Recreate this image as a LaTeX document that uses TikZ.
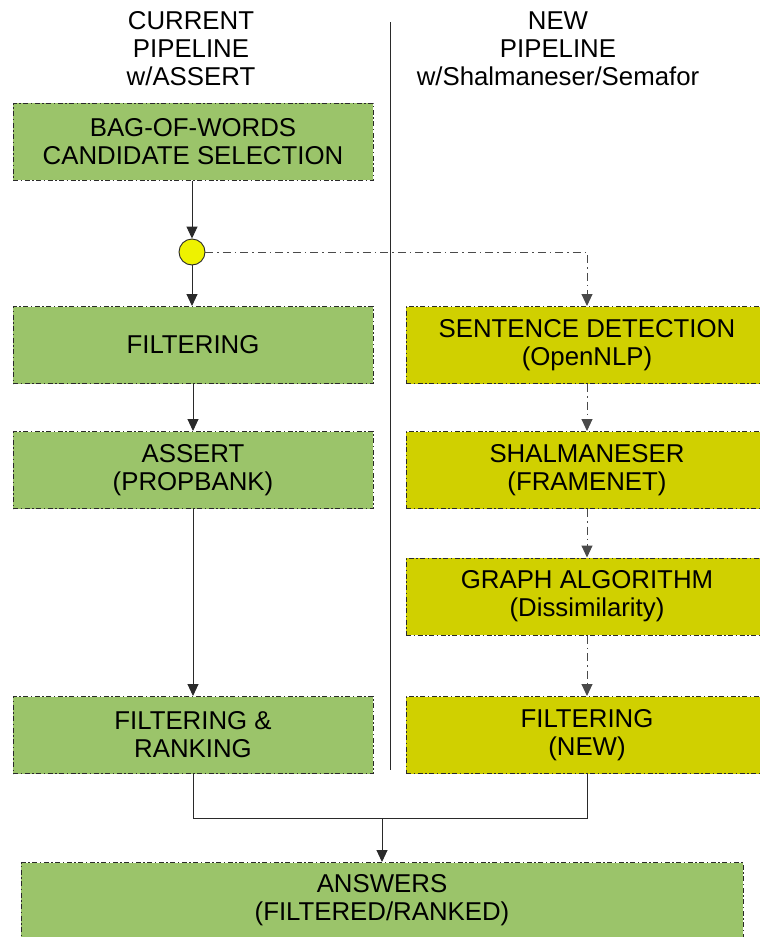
\documentclass[tikz,border=0pt]{standalone}
\usepackage{fontspec}
\setmainfont{Liberation Sans}
\usetikzlibrary{arrows.meta}
\definecolor{boxgreen}{HTML}{9BC46A}
\definecolor{boxolive}{HTML}{D0D000}
\definecolor{dotyellow}{HTML}{EEF200}
\definecolor{edge}{HTML}{2A2A2A}
\tikzset{
  txt/.style={font=\fontsize{25.8}{28}\selectfont, align=center, inner sep=0pt},
  stepbox/.style={txt, draw=edge, line width=1pt,
     dash pattern=on 5pt off 2.5pt on 1.5pt off 2.5pt,
     minimum width=360pt, minimum height=77pt},
  greenbox/.style={stepbox, fill=boxgreen},
  olivebox/.style={stepbox, fill=boxolive, minimum width=362pt},
  solidarrow/.style={draw=edge, line width=1pt, -{Triangle[length=12pt,width=11pt]}},
  dasharrow/.style={draw=edge!85, line width=1pt, dash pattern=on 8pt off 4pt on 1.5pt off 4pt,
     -{Triangle[length=12pt,width=11pt]}},
  solidline/.style={draw=edge, line width=1pt},
}
\begin{document}
\begin{tikzpicture}[x=1pt,y=-1pt]
\useasboundingbox (0,0) rectangle (760,937);
% headers
\node[txt] (hcur) at (191,49) {CURRENT\\PIPELINE\\w/ASSERT};
\node[txt] (hnew) at (558,49) {NEW\\PIPELINE\\w/Shalmaneser/Semafor};
% separator
\coordinate (septop) at (390,22);
\coordinate (sepbot) at (390,770);
\draw[solidline] (septop) -- (sepbot);
% left boxes
\node[greenbox] (bag) at (193,141.5) {BAG-OF-WORDS\\CANDIDATE SELECTION};
\node[circle, draw=edge, line width=0.9pt, fill=dotyellow, minimum size=26pt, inner sep=0pt] (dot) at (192,252) {};
\node[greenbox] (filt) at (193,345) {FILTERING};
\node[greenbox] (assert) at (193,470) {ASSERT\\(PROPBANK)};
\node[greenbox] (fr) at (193,735) {FILTERING \&\\RANKING};
% right boxes
\node[olivebox] (sent) at (587,345) {SENTENCE DETECTION\\(OpenNLP)};
\node[olivebox] (shal) at (587,470) {SHALMANESER\\(FRAMENET)};
\node[olivebox] (graph) at (587,596.5) {GRAPH ALGORITHM\\(Dissimilarity)};
\node[olivebox] (fnew) at (587,735) {FILTERING\\(NEW)};
% answers
\node[greenbox, minimum width=722pt, minimum height=90pt, anchor=north] (ans) at (382,862) {};
\node[txt] (anstxt) at (382,900) {ANSWERS\\(FILTERED/RANKED)};
% connectors
\draw[solidarrow] (bag.south -| dot) -- (dot.north);
\draw[solidarrow] (dot.south) -- (dot |- filt.north);
\draw[dasharrow] (dot.east) -| (sent.north);
\draw[solidarrow] (filt) -- (assert);
\draw[solidarrow] (assert) -- (fr);
\draw[dasharrow] (sent) -- (shal);
\draw[dasharrow] (shal) -- (graph);
\draw[dasharrow] (graph) -- (fnew);
\coordinate (merge) at (382,818);
\draw[solidline] (fr.south) |- (merge) -| (fnew.south);
\draw[solidarrow] (merge) -- (ans.north);
\end{tikzpicture}
\end{document}
